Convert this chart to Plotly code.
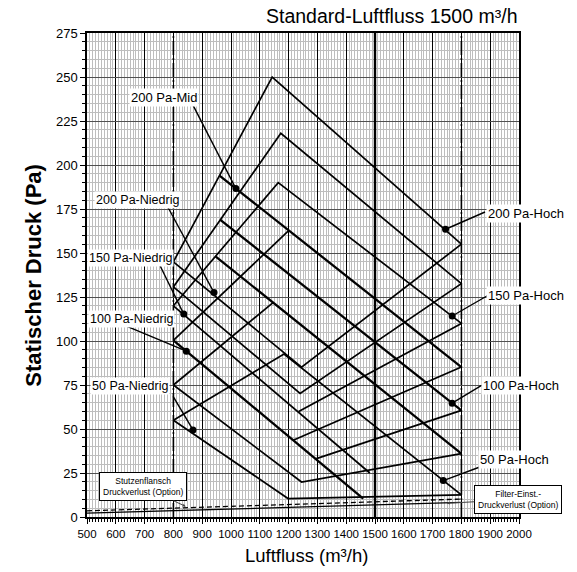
import plotly.graph_objects as go

# ---------------- data ----------------
x_range = [500, 2000]
y_range = [0, 275]
x_ticks = list(range(500, 2001, 100))
y_ticks = list(range(0, 276, 25))
x_limits = [800, 1800]
x_standard = 1500

# curves rising along the left limit and falling along a fan curve
hoch_200_x = [800, 1143, 1800]; hoch_200_y = [145, 250, 155]
hoch_175_x = [800, 1173, 1800]; hoch_175_y = [130.7, 218, 132.6]
hoch_150_x = [800, 1164, 1800]; hoch_150_y = [120, 190, 110]
hoch_50_x = [800, 1184, 1800]; hoch_50_y = [55, 92.6, 12.6]
limit_100_x = [800, 1201]; limit_100_y = [100.4, 162.8]
limit_75_x = [800, 1146]; limit_75_y = [75, 121.8]

# fan curves starting on a left limit line (bold)
mid_200_x = [960, 1800]; mid_200_y = [194, 85.2]
mid_175_x = [963, 1800]; mid_175_y = [168.8, 60.6]
mid_150_x = [946, 1800]; mid_150_y = [148.1, 36]

# curves falling from the left limit and rising along the right limit
nied_200_x = [800, 1245, 1800]; nied_200_y = [145, 85.2, 155]
nied_175_x = [800, 1240, 1800]; nied_175_y = [130.7, 70.2, 132.6]
nied_150_x = [800, 1482]; nied_150_y = [120, 25]
nied_150r_x = [1235, 1800]; nied_150r_y = [60.0, 110]
nied_100_x = [800, 1459]; nied_100_y = [100.4, 10.5]
nied_100r1_x = [1216, 1800]; nied_100r1_y = [43.6, 85.2]
nied_100r2_x = [1294, 1800]; nied_100r2_y = [33.0, 60.6]
nied_75_x = [800, 1245, 1800]; nied_75_y = [75, 19.9, 36]
nied_50_x = [800, 1198, 1800]; nied_50_y = [55, 10.5, 12.6]

# pressure-loss lines
flange_x = [500, 1800]; flange_y = [3.5, 10.2]
filter_x = [500, 1800]; filter_y = [2.2, 8.3]

# labels: text, font size, text centre (x, y), leader start (x, y), dot (x, y)
labels = [
    ("200 Pa-Mid", 13, 769, 238.4, 868, 234, 1017, 186.6),
    ("200 Pa-Niedrig", 12.5, 676, 180, 781, 176, 941, 127.5),
    ("150 Pa-Niedrig", 12.5, 650, 147.4, 750, 144, 836, 115.3),
    ("100 Pa-Niedrig", 12.5, 655, 112.7, 637, 108.4, 845, 94.2),
    ("50 Pa-Niedrig", 12.5, 650, 74.3, 799, 68.5, 868, 49.5),
    ("200 Pa-Hoch", 13, 2023, 172.4, 1882, 173.3, 1745, 163.5),
    ("150 Pa-Hoch", 13, 2024, 126, 1893, 126, 1768, 114.2),
    ("100 Pa-Hoch", 13, 2007, 74.8, 1870, 74.8, 1768, 64.7),
    ("50 Pa-Hoch", 13, 1985, 32.6, 1864, 28.4, 1737, 20.7),
]

# ---------------- figure ----------------
fig = go.Figure()

def add_line(xs, ys, width=1.6, dash="solid", color="black"):
    fig.add_trace(go.Scatter(x=xs, y=ys, mode="lines",
                             line=dict(color=color, width=width, dash=dash),
                             hoverinfo="skip", showlegend=False))

for xl in x_limits:
    add_line([xl, xl], y_range, width=1.6, dash="14px,3px,2px,3px")
add_line([x_standard, x_standard], y_range, width=2.4)

thin = [(hoch_200_x, hoch_200_y), (hoch_175_x, hoch_175_y), (hoch_150_x, hoch_150_y),
        (hoch_50_x, hoch_50_y), (limit_100_x, limit_100_y), (limit_75_x, limit_75_y),
        (nied_200_x, nied_200_y), (nied_175_x, nied_175_y), (nied_150_x, nied_150_y),
        (nied_150r_x, nied_150r_y), (nied_100r1_x, nied_100r1_y), (nied_100r2_x, nied_100r2_y),
        (nied_75_x, nied_75_y), (nied_50_x, nied_50_y)]
for xs, ys in thin:
    add_line(xs, ys, width=1.7)
for xs, ys in [(mid_200_x, mid_200_y), (mid_175_x, mid_175_y), (mid_150_x, mid_150_y),
               (nied_100_x, nied_100_y)]:
    add_line(xs, ys, width=2.3)

add_line(flange_x, flange_y, width=1.3, dash="5px,3px")
add_line(filter_x, filter_y, width=1.3)

# leader lines and dots
for text, fs, tx, ty, lx, ly, dx, dy in labels:
    add_line([lx, dx], [ly, dy], width=1.4)
fig.add_trace(go.Scatter(x=[l[6] for l in labels], y=[l[7] for l in labels],
                         mode="markers", marker=dict(color="black", size=7),
                         hoverinfo="skip", showlegend=False))

for text, fs, tx, ty, lx, ly, dx, dy in labels:
    # text positions may lie right of the x range, so place them in paper units
    fig.add_annotation(xref="paper", x=(tx - x_range[0]) / (x_range[1] - x_range[0]),
                       xanchor="center", yref="y", y=ty, yanchor="middle",
                       text=text, showarrow=False,
                       font=dict(family="Liberation Sans, Arial", size=fs, color="black"),
                       bgcolor="white", borderpad=1)

fig.add_annotation(x=843, y=6, ax=694.6, ay=17.2, axref="x", ayref="y",
                   text="Stutzenflansch<br>Druckverlust (Option)", showarrow=True,
                   arrowhead=2, arrowsize=0.6, arrowwidth=1, arrowcolor="#444", standoff=0,
                   font=dict(family="Liberation Sans Narrow, Liberation Sans, Arial", size=8.5, color="black"),
                   bgcolor="white", bordercolor="black", borderwidth=1, borderpad=3)
fig.add_annotation(x=1749, y=7.8, ax=1996, ay=10, axref="x", ayref="y",
                   text="Filter-Einst.-<br>Druckverlust (Option)", showarrow=True,
                   arrowhead=2, arrowsize=0.6, arrowwidth=1, arrowcolor="#444", standoff=0,
                   font=dict(family="Liberation Sans Narrow, Liberation Sans, Arial", size=8.5, color="black"),
                   bgcolor="white", bordercolor="black", borderwidth=1, borderpad=3)

fig.add_annotation(xref="paper", yref="paper", x=1.0, y=1.0345, xanchor="right", yanchor="middle",
                   text="Standard-Luftfluss 1500 m\u00b3/h", showarrow=False,
                   font=dict(family="Liberation Sans, Arial", size=19.5, color="black"))
fig.add_annotation(xref="paper", yref="paper", x=0.509, y=-0.079, xanchor="center", yanchor="middle",
                   text="Luftfluss (m\u00b3/h)", showarrow=False,
                   font=dict(family="Liberation Sans, Arial", size=18.5, color="black"))
fig.add_annotation(xref="paper", yref="paper", x=-0.1258, y=0.5, xanchor="center", yanchor="middle",
                   text="<b>Statischer Druck (Pa)</b>", showarrow=False, textangle=-90,
                   font=dict(family="Liberation Sans, Arial", size=22, color="black"))

fig.update_layout(
    width=577, height=572,
    margin=dict(l=87, r=58, t=33, b=55),
    plot_bgcolor="white", paper_bgcolor="white",
    font=dict(family="Liberation Sans, Arial", color="black"),
)
fig.update_xaxes(range=x_range, tickvals=x_ticks, ticktext=[str(v) for v in x_ticks],
                 tickangle=0,
                 showgrid=True, gridcolor="black", gridwidth=1,
                 minor=dict(dtick=10, tick0=500, showgrid=True, gridcolor="#bdbdbd", gridwidth=1,
                            ticks="outside", ticklen=3, tickcolor="black"),
                 ticks="outside", ticklen=5, tickcolor="black",
                 showline=True, mirror=True, linecolor="black", linewidth=1.5,
                 zeroline=False,
                 tickfont=dict(family="Liberation Sans Narrow, Liberation Sans, Arial", size=11.5))
fig.update_yaxes(range=y_range, tickvals=y_ticks, ticktext=[str(v) for v in y_ticks],
                 showgrid=True, gridcolor="#505050", gridwidth=1.4,
                 minor=dict(dtick=5, tick0=0, showgrid=True, gridcolor="#bdbdbd", gridwidth=1,
                            ticks="outside", ticklen=3, tickcolor="black"),
                 ticks="outside", ticklen=5, tickcolor="black",
                 showline=True, mirror=True, linecolor="black", linewidth=1.5,
                 zeroline=False,
                 tickfont=dict(family="Liberation Sans, Arial", size=13))

fig.write_html("out.html", config={"displayModeBar": False},
               post_script="document.body.style.margin='0px';")
